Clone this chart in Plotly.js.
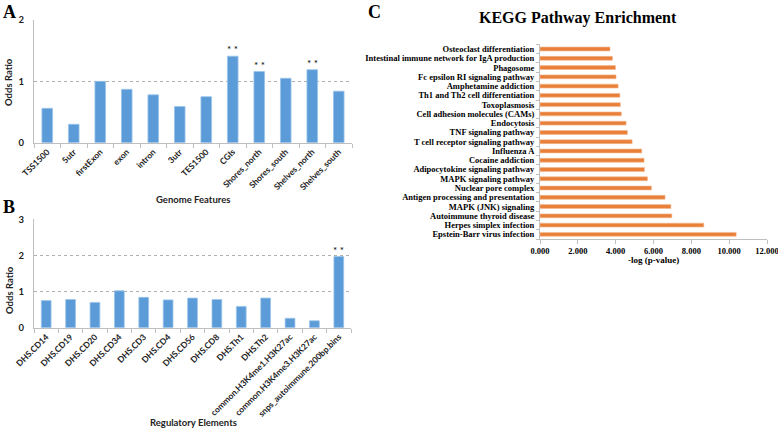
<!DOCTYPE html>
<html>
<head>
<meta charset="utf-8">
<script src="https://cdn.plot.ly/plotly-3.0.1.min.js"></script>
<style>html,body{margin:0;padding:0;background:#fff;}#chart{width:778px;height:428px;}</style>
</head>
<body>
<div id="chart"></div>
<script>
// Panel A: Genome Features
const genomeFeatures = ["TSS1500","5utr","firstExon","exon","intron","3utr","TES1500","CGIs","Shores_north","Shores_south","Shelves_north","Shelves_south"];
const genomeOdds = [0.56, 0.30, 1.00, 0.87, 0.78, 0.59, 0.75, 1.41, 1.16, 1.05, 1.19, 0.84];
const genomeSig = ["CGIs","Shores_north","Shelves_north"];

// Panel B: Regulatory Elements
const regElements = ["DHS.CD14","DHS.CD19","DHS.CD20","DHS.CD34","DHS.CD3","DHS.CD4","DHS.CD56","DHS.CD8","DHS.Th1","DHS.Th2","common.H3K4me1.H3K27ac","common.H3K4me3.H3K27ac","snps_autoimmune.200bp.bins"];
const regOdds = [0.75, 0.78, 0.70, 1.02, 0.84, 0.77, 0.82, 0.78, 0.59, 0.82, 0.26, 0.19, 1.97];
const regSig = ["snps_autoimmune.200bp.bins"];

// Panel C: KEGG pathways (bottom to top)
const keggPathways = ["Epstein-Barr virus infection","Herpes simplex infection","Autoimmune thyroid disease","MAPK (JNK) signaling","Antigen processing and presentation","Nuclear pore complex","MAPK signaling pathway","Adipocytokine signaling pathway","Cocaine addiction","Influenza A","T cell receptor signaling pathway","TNF signaling pathway","Endocytosis","Cell adhesion molecules (CAMs)","Toxoplasmosis","Th1 and Th2 cell differentiation","Amphetamine addiction","Fc epsilon RI signaling pathway","Phagosome","Intestinal immune network for IgA production","Osteoclast differentiation"];
const keggLogP = [10.37, 8.66, 6.97, 6.92, 6.61, 5.89, 5.68, 5.52, 5.50, 5.38, 4.87, 4.62, 4.55, 4.30, 4.25, 4.22, 4.13, 4.02, 3.99, 3.83, 3.70];
const keggTicks = [0, 2, 4, 6, 8, 10, 12];
const keggTickText = ["0.000","2.000","4.000","6.000","8.000","10.000","12.000"];

const sans = "Lato, 'Open Sans', sans-serif";
const serif = "'Liberation Serif', 'Times New Roman', serif";
const blue = "#5a9bd8";
const orange = "#e9803a";
const axisCol = "#bfbfbf";

const W = 778, H = 428;
const px = v => v / W;
const py = v => (H - v) / H;

const traces = [
  {type:"bar", x:genomeFeatures, y:genomeOdds, xaxis:"x", yaxis:"y",
   marker:{color:blue, line:{color:"#9cc4ea", width:0.8}}, hoverinfo:"x+y"},
  {type:"bar", x:regElements, y:regOdds, xaxis:"x2", yaxis:"y2",
   marker:{color:blue, line:{color:"#9cc4ea", width:0.8}}, hoverinfo:"x+y"},
  {type:"bar", orientation:"h", x:keggLogP, y:keggPathways, xaxis:"x3", yaxis:"y3",
   marker:{color:orange, line:{color:"#f3b98e", width:0.6}}, width:0.42, hoverinfo:"x+y"}
];

const catX = {
  type:"category", showgrid:false, showline:true, linecolor:axisCol, linewidth:1,
  ticks:"outside", tickson:"boundaries", ticklen:4, tickcolor:axisCol,
  tickangle:-45, tickfont:{family:sans, size:8.5, color:"#222", weight:"bold"},
  zeroline:false, fixedrange:true
};
const oddsY = {
  showgrid:true, gridcolor:"#b0b0b0", griddash:"dot", gridwidth:1,
  showline:true, linecolor:axisCol, linewidth:1, ticks:"", zeroline:false,
  ticklabelstandoff:7,
  tickfont:{family:sans, size:9.5, color:"#222", weight:"bold"}, dtick:1, fixedrange:true
};

const annotations = [];
genomeSig.forEach(c => {
  annotations.push({xref:"x", yref:"y", x:c, y:genomeOdds[genomeFeatures.indexOf(c)], text:"* *",
    showarrow:false, yanchor:"bottom", yshift:-1, font:{family:sans, size:10, color:"#000"}});
});
regSig.forEach(c => {
  annotations.push({xref:"x2", yref:"y2", x:c, y:regOdds[regElements.indexOf(c)], text:"* *",
    showarrow:false, yanchor:"bottom", yshift:-1, font:{family:sans, size:10, color:"#000"}});
});
const textAnn = (x, y, text, font, extra) => Object.assign({xref:"paper", yref:"paper", x:px(x), y:py(y), text, showarrow:false, font, xanchor:"center", yanchor:"middle"}, extra||{});
annotations.push(textAnn(1, 0, "<b>A</b>", {family:serif, size:18, color:"#000"}, {xanchor:"left", yanchor:"top"}));
annotations.push(textAnn(1, 207, "<b>B</b>", {family:serif, size:18, color:"#000"}, {xanchor:"left"}));
annotations.push(textAnn(374, 0, "<b>C</b>", {family:serif, size:18, color:"#000"}, {yanchor:"top"}));
annotations.push(textAnn(193, 199, "<b>Genome Features</b>", {family:sans, size:9.5, color:"#222"}));
annotations.push(textAnn(193, 422, "<b>Regulatory Elements</b>", {family:sans, size:9.5, color:"#222"}));
annotations.push(textAnn(9, 82, "<b>Odds Ratio</b>", {family:sans, size:9.5, color:"#222"}, {textangle:-90}));
annotations.push(textAnn(9, 290, "<b>Odds Ratio</b>", {family:sans, size:9.5, color:"#222"}, {textangle:-90}));
annotations.push(textAnn(578, 18, "<b>KEGG Pathway Enrichment</b>", {family:serif, size:16, color:"#000"}));
annotations.push(textAnn(653, 260, "<b>-log (p-value)</b>", {family:serif, size:9, color:"#000"}));

const layout = {
  width:W, height:H, margin:{l:0, r:0, t:0, b:0},
  paper_bgcolor:"#fff", plot_bgcolor:"#fff", showlegend:false,
  bargap:0.6,
  xaxis: Object.assign({}, catX, {domain:[px(34), px(352)], anchor:"y"}),
  yaxis: Object.assign({}, oddsY, {domain:[py(142.7), py(20)], range:[0, 2], anchor:"x"}),
  xaxis2: Object.assign({}, catX, {domain:[px(34), px(351)], anchor:"y2"}),
  yaxis2: Object.assign({}, oddsY, {domain:[py(327.7), py(219.3)], range:[0, 3], anchor:"x2"}),
  xaxis3: {domain:[px(540), px(767)], anchor:"y3", range:[0, 12.0001], tickmode:"array", tickvals:keggTicks, ticktext:keggTickText,
    showgrid:false, showline:true, linecolor:axisCol, ticks:"outside", ticklen:4, tickcolor:axisCol,
    ticklabeloverflow:"allow",
    zeroline:false, tickfont:{family:serif, size:8.5, color:"#000", weight:"bold"}, fixedrange:true},
  yaxis3: {domain:[py(239), py(44.4)], anchor:"x3", type:"category", showgrid:false, showline:true,
    tickmode:"array", tickvals:keggPathways, ticktext:keggPathways,
    linecolor:axisCol, ticks:"outside", tickson:"boundaries", ticklen:3, tickcolor:axisCol,
    tickfont:{family:serif, size:8.5, color:"#000", weight:"bold"}, ticklabelstandoff:3, fixedrange:true},
  annotations
};

Plotly.newPlot("chart", traces, layout, {displayModeBar:false});
</script>
</body>
</html>
